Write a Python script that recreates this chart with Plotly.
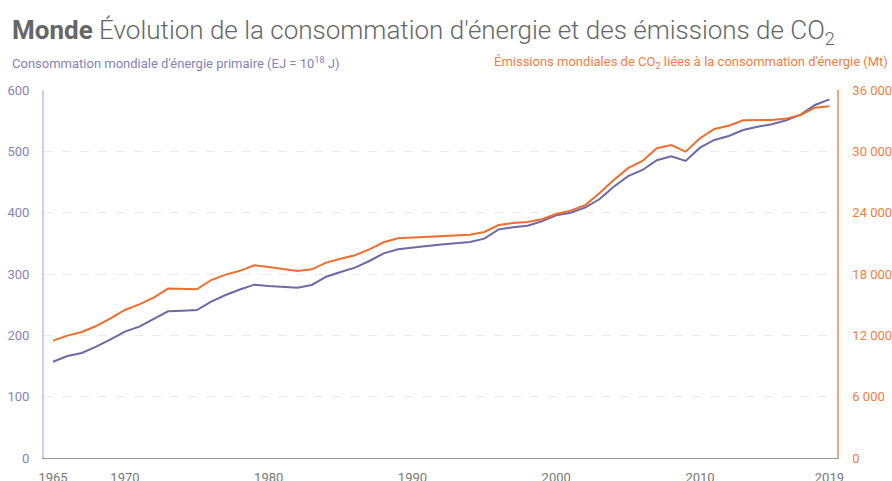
import plotly.graph_objects as go

years = list(range(1965, 2020))

energy_ej = [157.0, 166.3, 171.2, 181.5, 193.5, 206.0, 214.1, 226.1, 239.1, 240.2,
             241.3, 254.9, 265.8, 274.8, 282.6, 280.4, 279.3, 277.7, 282.1, 295.6,
             303.3, 310.3, 321.2, 333.7, 340.3, 343.5, 345.7, 348.0, 349.5, 352.2,
             357.6, 372.8, 376.1, 378.8, 385.9, 395.7, 400.0, 408.1, 421.8, 442.4,
             459.5, 469.6, 485.4, 491.9, 484.3, 506.0, 518.5, 525.0, 534.8, 540.2,
             544.1, 550.6, 559.8, 575.6, 584.8]

co2_mt = [11480, 11970, 12330, 12910, 13660, 14480, 15030, 15690, 16570, 16500,
          16500, 17410, 17940, 18310, 18850, 18690, 18490, 18290, 18460, 19110,
          19500, 19830, 20410, 21100, 21490, 21560, 21590, 21680, 21720, 21850,
          22110, 22790, 22990, 23090, 23350, 23870, 24200, 24720, 25890, 27200,
          28350, 29060, 30300, 30620, 29970, 31270, 32190, 32510, 33030, 33070,
          33070, 33200, 33560, 34270, 34400]

x_tickvals = [1965, 1970, 1980, 1990, 2000, 2010, 2019]
left_ticks = [0, 100, 200, 300, 400, 500, 600]
right_ticks = [0, 6000, 12000, 18000, 24000, 30000, 36000]

PURPLE = "#6e69a6"
ORANGE = "#ef6d2e"
PURPLE_TXT = "#8682b8"
ORANGE_TXT = "#f07d45"
FONT = "Roboto"

W, H = 892, 481
L, R, T, B = 44, 55, 90, 23
PW, PH = W - L - R, H - T - B

fig = go.Figure()
fig.add_trace(go.Scatter(x=years, y=energy_ej, mode="lines",
                         line=dict(color=PURPLE, width=2), yaxis="y",
                         name="Énergie"))
fig.add_trace(go.Scatter(x=years, y=co2_mt, mode="lines",
                         line=dict(color=ORANGE, width=2), yaxis="y2",
                         name="CO2"))

fig.update_layout(
    width=W, height=H,
    margin=dict(l=L, r=R, t=T, b=B, autoexpand=False),
    paper_bgcolor="white", plot_bgcolor="white",
    showlegend=False,
    separators=", ",
    font=dict(family=FONT, size=13, color="#666"),
    title=dict(
        text="<b>Monde</b> Évolution de la consommation d'énergie et des émissions de CO<sub>2</sub>",
        x=12 / W, xref="container", xanchor="left",
        y=1 - 30 / H, yref="container", yanchor="middle",
        pad=dict(l=0, r=0, t=0, b=0), automargin=False,
        font=dict(family=FONT, size=26, color="#666", weight=300),
    ),
    xaxis=dict(
        range=[1964.37, 2019.53], automargin=False,
        tickmode="array", tickvals=x_tickvals,
        showgrid=False, zeroline=False,
        showline=True, linecolor="#9a9a9a", linewidth=1,
        ticks="", ticklabelstandoff=7,
        tickfont=dict(family=FONT, size=13, color="#777"),
    ),
    yaxis=dict(
        range=[0, 600], tickmode="array", tickvals=left_ticks, automargin=False,
        showgrid=True, gridcolor="#ebebeb", griddash="dash", gridwidth=1,
        zeroline=False,
        showline=True, linecolor="#cfcde4", linewidth=2,
        ticks="", ticklabelstandoff=10,
        tickfont=dict(family=FONT, size=13, color=PURPLE_TXT),
    ),
    yaxis2=dict(
        range=[0, 36000], tickmode="array", tickvals=right_ticks, automargin=False,
        tickformat=",d",
        overlaying="y", side="right",
        showgrid=False, zeroline=False,
        showline=True, linecolor="#f5a57c", linewidth=1.5,
        ticks="", ticklabelstandoff=11,
        tickfont=dict(family=FONT, size=13, color=ORANGE_TXT),
    ),
    annotations=[
        dict(text="Consommation mondiale d'énergie primaire (EJ = 10<sup>18</sup> J)",
             xref="paper", yref="paper", x=(10 - L) / PW, y=(T + PH - 63) / PH,
             xanchor="left", yanchor="middle", showarrow=False,
             font=dict(family=FONT, size=13, color=PURPLE_TXT)),
        dict(text="Émissions mondiales de CO<sub>2</sub> liées à la consommation d'énergie (Mt)",
             xref="paper", yref="paper", x=(890 - L) / PW, y=(T + PH - 63) / PH,
             xanchor="right", yanchor="middle", showarrow=False,
             font=dict(family=FONT, size=13, color=ORANGE_TXT)),
    ],
)

fig.write_html(
    "out.html",
    config={"displayModeBar": False},
    post_script="document.body.style.margin='0';document.body.style.overflow='hidden';",
)
